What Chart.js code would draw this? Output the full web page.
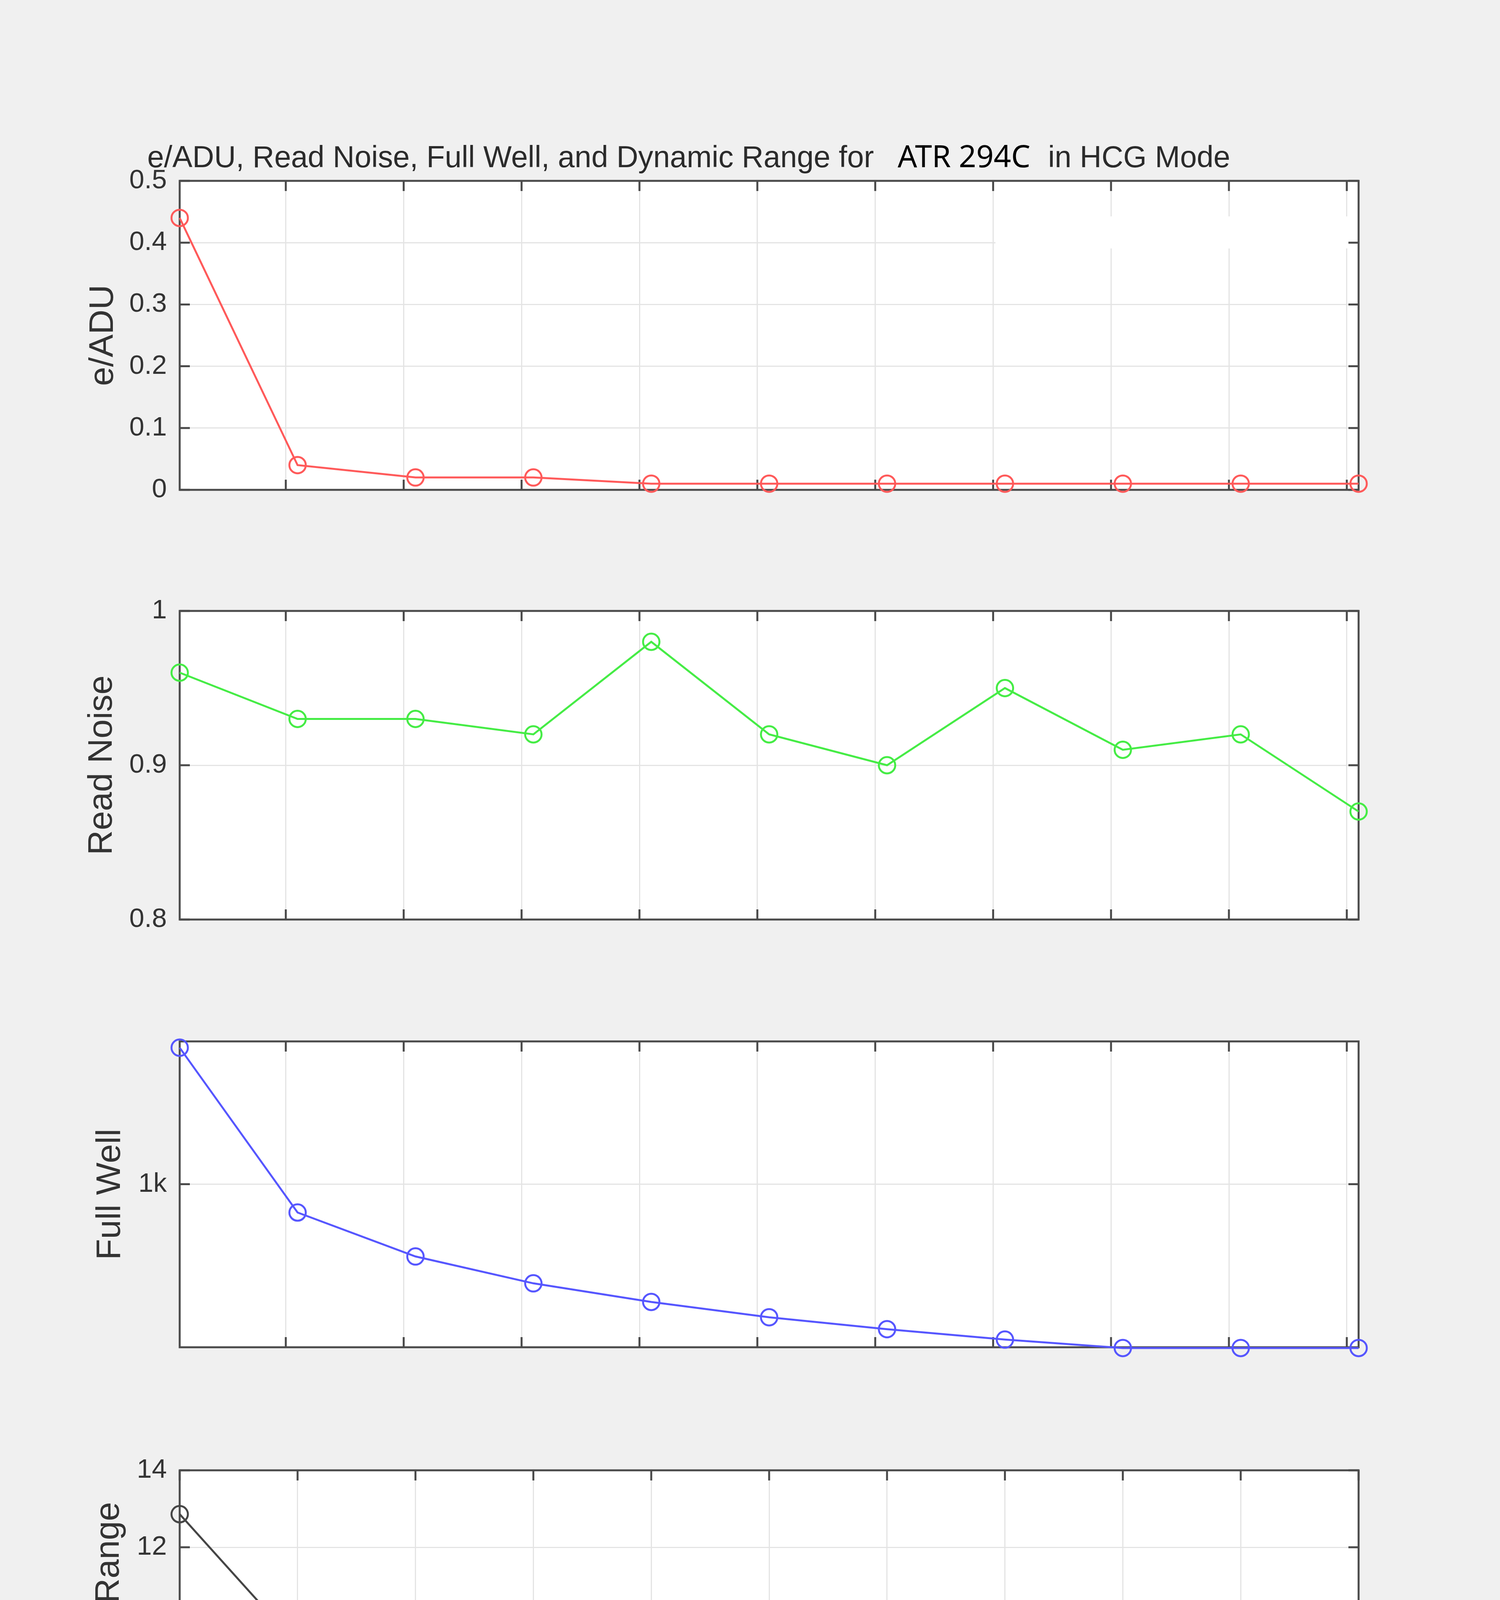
<!DOCTYPE html>
<html>
<head>
<meta charset="utf-8">
<title>e/ADU, Read Noise, Full Well, and Dynamic Range for ATR 294C in HCG Mode</title>
<script src="https://cdn.jsdelivr.net/npm/chart.js@4.4.1/dist/chart.umd.min.js"></script>
<style>
  html, body { margin: 0; padding: 0; background: #f0f0f0; }
  body { width: 3840px; height: 5200px; position: relative; overflow: hidden;
         font-family: "Liberation Sans", Arial, sans-serif; }
  canvas { position: absolute; left: 0; }
  .title { position: absolute; white-space: pre; line-height: 1; color: #2b2b2b; font-size: 77px; z-index: 2; }
  .title.device { font-family: "Noto Sans", sans-serif; font-size: 78px; color: #000; }
</style>
</head>
<body>
<div class="title" style="left:377px;top:363px">e/ADU, Read Noise, Full Well, and Dynamic Range for</div>
<div class="title device" style="left:2298px;top:359px">ATR 294C</div>
<div class="title" style="left:2683px;top:363px">in HCG Mode</div>

<canvas id="eadu"></canvas>
<canvas id="noise"></canvas>
<canvas id="well"></canvas>
<canvas id="range"></canvas>

<script>
// Data
const gains = [100, 1100, 2100, 3100, 4100, 5100, 6100, 7100, 8100, 9100, 10100];
const gainLabels = ["100", "1100", "2100", "3100", "4100", "5100", "6100", "7100", "8100", "9100", "10100"];
const dbLabels = ["0.00", "20.83", "26.44", "29.8", "32.26", "34.15", "35.71", "37.03", "38.17", "39.18", "40.09"];
const gridGains = [1000, 2000, 3000, 4000, 5000, 6000, 7000, 8000, 9000, 10000];

const eADU = [0.44, 0.04, 0.02, 0.02, 0.01, 0.01, 0.01, 0.01, 0.01, 0.01, 0.01];
const readNoise = [0.96, 0.93, 0.93, 0.92, 0.98, 0.92, 0.90, 0.95, 0.91, 0.92, 0.87];
const fullWell = [7300, 662, 349, 236, 180, 144, 121, 104, 92, 92, 92];
const dynamicRange = [12.86, 9.46, 8.55, 8.02, 7.51, 7.28, 7.08, 6.77, 6.61, 6.73, 6.68];

// Layout (page pixels)
const PAGE_W = 3840;
const PLOT_LEFT = 460;
const PLOT_RIGHT = 3478;
const PAD = 120;
const AXIS_COLOR = "#4a4a4a";
const GRID_COLOR = "#e4e4e4";
const TEXT_COLOR = "#333333";
const FONT = "'Liberation Sans', Arial, sans-serif";
const TICK_LEN = 26;

// MATLAB-like box: white plot area, dark frame, inward ticks on all sides
const matlabAxes = {
  id: "matlabAxes",
  beforeDraw(chart) {
    const { ctx, chartArea: a } = chart;
    ctx.save();
    ctx.fillStyle = "#ffffff";
    ctx.fillRect(a.left, a.top, a.width, a.height);
    ctx.restore();
  },
  beforeDatasetsDraw(chart, args, opts) {
    const { ctx, chartArea: a, scales } = chart;
    const x = scales.x, y = scales.y;
    ctx.save();
    if (opts.mask) {
      const m = opts.mask;
      const x0 = x.getPixelForValue(m.x0), x1 = x.getPixelForValue(m.x1);
      const y0 = y.getPixelForValue(m.y0), y1 = y.getPixelForValue(m.y1);
      ctx.fillStyle = "#ffffff";
      ctx.fillRect(x0, y0, x1 - x0, y1 - y0);
    }
    ctx.strokeStyle = AXIS_COLOR;
    ctx.lineWidth = 5;
    ctx.beginPath();
    x.ticks.forEach((t) => {
      const px = x.getPixelForValue(t.value);
      ctx.moveTo(px, a.bottom);
      ctx.lineTo(px, a.bottom - TICK_LEN);
      ctx.moveTo(px, a.top);
      ctx.lineTo(px, a.top + TICK_LEN);
    });
    y.ticks.forEach((t) => {
      const py = y.getPixelForValue(t.value);
      ctx.moveTo(a.left, py);
      ctx.lineTo(a.left + TICK_LEN, py);
      ctx.moveTo(a.right, py);
      ctx.lineTo(a.right - TICK_LEN, py);
    });
    ctx.stroke();
    ctx.strokeRect(a.left, a.top, a.width, a.height);
    ctx.restore();
  },
};

const plainNumber = (v) => String(+Number(v).toFixed(2));

const makePanel = (id, p) => {
  const canvas = document.getElementById(id);
  const bottomAxis = p.last ? 413 : 0;
  const padBottom = p.last ? 60 : PAD;
  canvas.width = PAGE_W;
  canvas.height = PAD + p.plotH + bottomAxis + padBottom;
  canvas.style.top = p.plotTop - PAD + "px";
  canvas.style.width = PAGE_W + "px";
  canvas.style.height = canvas.height + "px";

  const xTicks = p.last ? gains : gridGains;

  new Chart(canvas, {
    type: "line",
    data: {
      datasets: [
        {
          data: gains.map((g, i) => ({ x: g, y: p.values[i] })),
          borderColor: p.color,
          borderWidth: 5,
          pointStyle: "circle",
          pointRadius: 21,
          pointBorderWidth: 5,
          pointBorderColor: p.color,
          pointBackgroundColor: "rgba(0,0,0,0)",
          tension: 0,
          clip: false,
        },
      ],
    },
    options: {
      responsive: false,
      animation: false,
      devicePixelRatio: 1,
      events: [],
      layout: {
        padding: { left: 0, right: PAGE_W - PLOT_RIGHT, top: PAD, bottom: padBottom },
      },
      scales: {
        x: {
          type: "linear",
          min: 100,
          max: 10100,
          afterBuildTicks: (s) => {
            s.ticks = xTicks.map((v) => ({ value: v }));
          },
          afterFit: (s) => {
            s.height = bottomAxis;
          },
          border: { display: false },
          grid: { color: GRID_COLOR, lineWidth: 3, drawTicks: false },
          ticks: {
            display: !!p.last,
            autoSkip: false,
            maxRotation: 0,
            padding: 76,
            color: TEXT_COLOR,
            font: { family: FONT, size: 69, lineHeight: 1.33 },
            callback: (v, i) => [gainLabels[i], dbLabels[i]],
          },
          title: {
            display: !!p.last,
            text: "Gain / Gain(dB)=20*log(GainValue/100)",
            color: TEXT_COLOR,
            padding: 0,
            font: { family: FONT, size: 80, lineHeight: 1 },
          },
        },
        y: Object.assign(
          {
            afterFit: (s) => {
              s.width = PLOT_LEFT;
            },
            border: { display: false },
            grid: { color: GRID_COLOR, lineWidth: 3, drawTicks: false },
            title: {
              display: true,
              text: p.label,
              color: TEXT_COLOR,
              padding: { top: p.labelX - 44, bottom: 0 },
              font: { family: FONT, size: 88, lineHeight: 1 },
            },
          },
          p.y,
          {
            ticks: Object.assign(
              { padding: 33, color: TEXT_COLOR, font: { family: FONT, size: 69 }, callback: plainNumber },
              p.y.ticks || {}
            ),
          }
        ),
      },
      plugins: {
        legend: { display: false },
        tooltip: { enabled: false },
        matlabAxes: { mask: p.mask || null },
      },
    },
    plugins: [matlabAxes],
  });
};

makePanel("eadu", {
  plotTop: 463,
  plotH: 791,
  values: eADU,
  color: "#ff5a5a",
  label: "e/ADU",
  labelX: 265,
  y: { type: "linear", min: 0, max: 0.5, ticks: { stepSize: 0.1 } },
  // blank patch left where a legend used to be
  mask: { x0: 7020, x1: 10025, y0: 0.4425, y1: 0.3906 },
});

makePanel("noise", {
  plotTop: 1564,
  plotH: 790,
  values: readNoise,
  color: "#45ec45",
  label: "Read Noise",
  labelX: 262,
  y: { type: "linear", min: 0.8, max: 1, ticks: { stepSize: 0.1 } },
});

makePanel("well", {
  plotTop: 2666,
  plotH: 783,
  values: fullWell,
  color: "#5656ff",
  label: "Full Well",
  labelX: 283,
  y: {
    type: "logarithmic",
    min: 93,
    max: 8000,
    afterBuildTicks: (s) => {
      s.ticks = [{ value: 1000 }];
    },
    ticks: { callback: () => "1k" },
  },
});

makePanel("range", {
  plotTop: 3764,
  plotH: 788,
  values: dynamicRange,
  color: "#454545",
  label: "Dynamic Range",
  labelX: 280,
  last: true,
  y: { type: "linear", min: 6, max: 14, ticks: { stepSize: 2 } },
});
</script>
</body>
</html>
